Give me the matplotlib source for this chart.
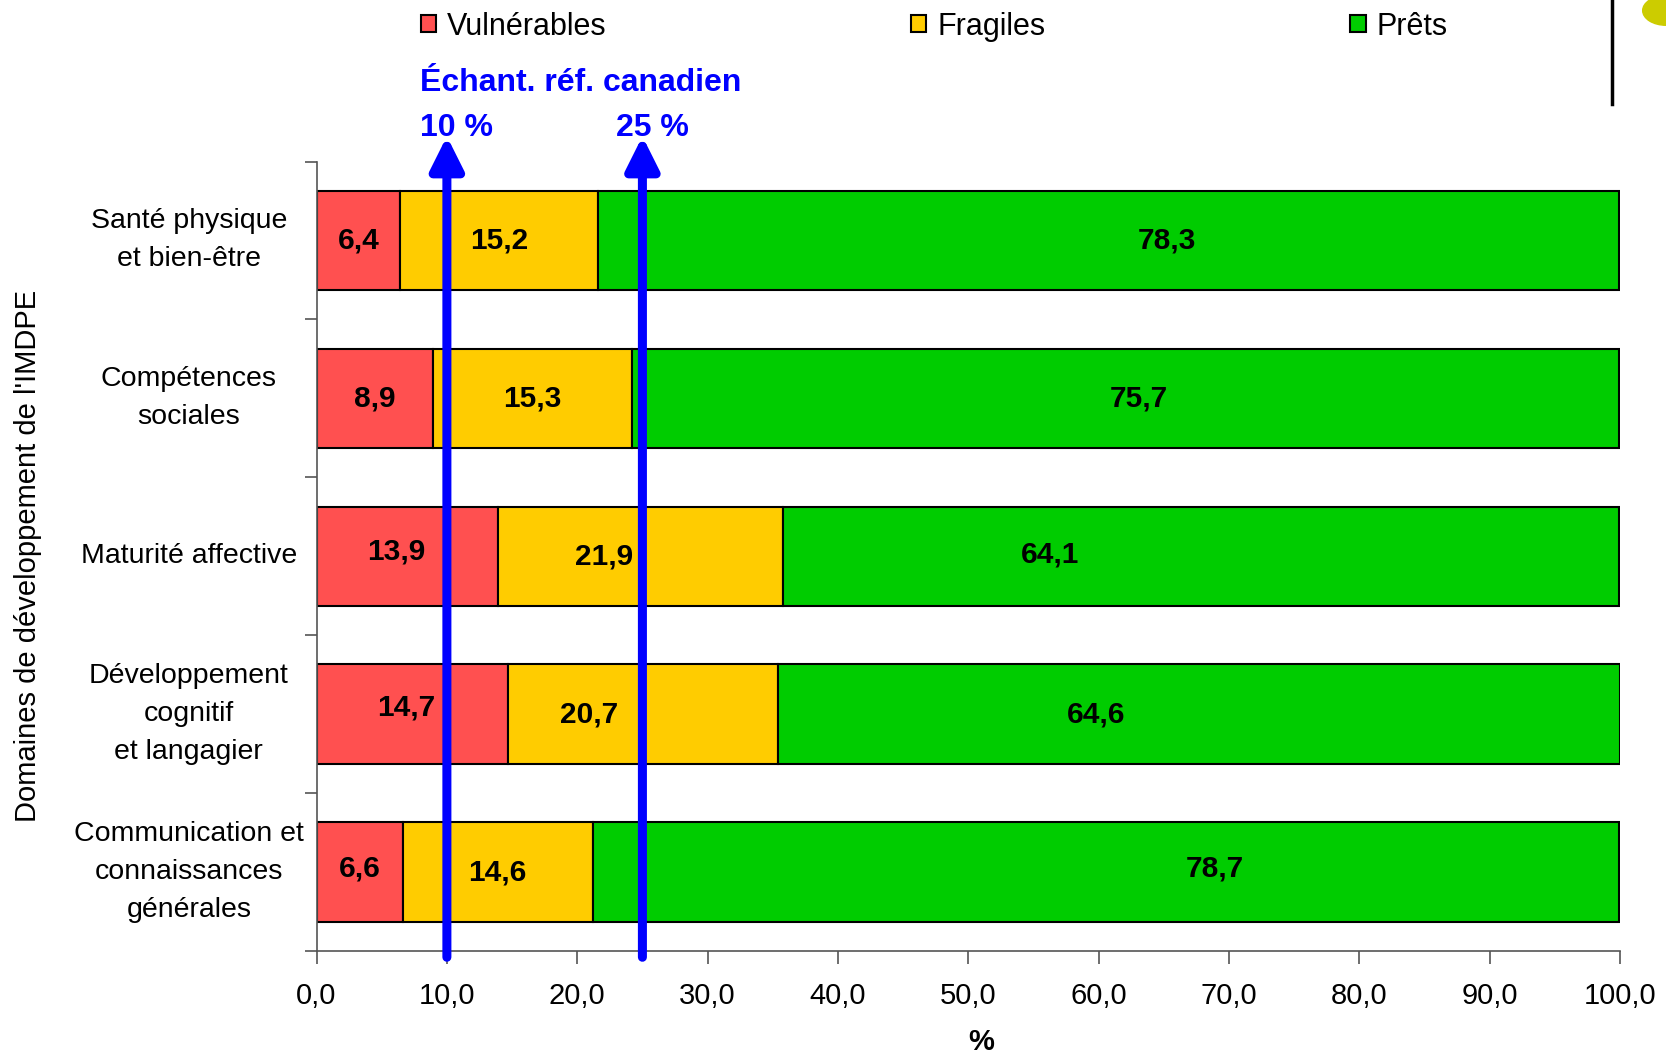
import matplotlib
matplotlib.use("Agg")
import matplotlib.pyplot as plt
from matplotlib.patches import Circle
from matplotlib.lines import Line2D
import numpy as np

plt.rcParams['font.family'] = ['Liberation Sans', 'DejaVu Sans']

categories = ["Santé physique\net bien-être", "Compétences\nsociales", "Maturité affective",
              "Développement\ncognitif\net langagier", "Communication et\nconnaissances\ngénérales"]
vulnerables = [6.4, 8.9, 13.9, 14.7, 6.6]
fragiles = [15.2, 15.3, 21.9, 20.7, 14.6]
prets = [78.3, 75.7, 64.1, 64.6, 78.7]
series_names = ["Vulnérables", "Fragiles", "Prêts"]
colors = ["#FF5050", "#FFCC00", "#00CC00"]
ref_values = [10, 25]
ref_labels = ["10 %", "25 %"]
xticks = np.arange(0, 101, 10)

# label horizontal shifts (layout only), in data units relative to segment center
label_shift = [[0, 0, 4.5], [0, 0, 1.0], [-0.8, -2.8, -11.6], [-0.5, -4.1, -7.9], [0, 0, 8.4]]
label_yshift = [[0, 0, 0], [0, 0, 0], [-0.03, 0, -0.01], [-0.04, 0, 0], [-0.02, 0, -0.02]]

fig = plt.figure(figsize=(16.66, 10.53), dpi=100)
ax = fig.add_axes([0.190, 0.0969, 0.7824, 0.7497])

y = np.arange(len(categories))
data = [vulnerables, fragiles, prets]
left = np.zeros(len(categories))
for si, (vals, col, name) in enumerate(zip(data, colors, series_names)):
    vals = np.array(vals)
    ax.barh(y, vals, left=left, height=0.63, color=col, edgecolor='black', linewidth=1.5, label=name, zorder=2)
    for i, v in enumerate(vals):
        cx = left[i] + v / 2 + label_shift[i][si]
        ax.text(cx, y[i] + label_yshift[i][si], f"{v:.1f}".replace('.', ','), ha='center', va='center',
                fontsize=21.5, fontweight='bold', color='black', zorder=4)
    left = left + vals

ax.set_xlim(0, 100)
ax.set_ylim(len(categories) - 0.5, -0.5)
ax.set_xticks(xticks)
ax.set_xticklabels([f"{t:.1f}".replace('.', ',') for t in xticks], fontsize=21)
ax.set_yticks(np.arange(len(categories) + 1) - 0.5)
ax.set_yticklabels([])
ax.set_yticks(y, minor=True)
ax.set_yticklabels(categories, minor=True, fontsize=20.5, linespacing=1.6, ha='center', va='center')
ax.tick_params(axis='y', which='minor', length=0, pad=92)
ax.tick_params(axis='y', which='major', length=9, color='#555555', width=1.2)
ax.tick_params(axis='x', length=9, color='#555555', width=1.2, pad=13)
for s in ['top', 'right']:
    ax.spines[s].set_visible(False)
for s in ['left', 'bottom']:
    ax.spines[s].set_color('#555555')
    ax.spines[s].set_linewidth(1.2)

ax.set_xlabel('%', fontsize=21, fontweight='bold')
ax.xaxis.set_label_coords(0.51, -0.098)
ax.set_ylabel("Domaines de développement de l'IMDPE", fontsize=21)
ax.yaxis.set_label_coords(-0.211, 0.5)

# reference arrows
for rv in ref_values:
    ax.annotate('', xy=(rv, -0.66), xytext=(rv, 4.54),
                arrowprops=dict(arrowstyle='-|>,head_length=0.9,head_width=0.45', lw=6.5, color='#0000FF',
                                mutation_scale=22, shrinkA=0, shrinkB=0),
                annotation_clip=False, zorder=5)

fig.text(0.252, 0.921, "Échant. réf. canadien", color='#0000FF', fontsize=23, fontweight='bold', va='center')
fig.text(0.252, 0.878, ref_labels[0], color='#0000FF', fontsize=23, fontweight='bold', va='center')
fig.text(0.370, 0.878, ref_labels[1], color='#0000FF', fontsize=23, fontweight='bold', va='center')

handles = [plt.Rectangle((0, 0), 1, 1, facecolor=c, edgecolor='black', linewidth=1.5) for c in colors]
fig.legend(handles, series_names, loc='upper left', bbox_to_anchor=(0.2525, 0.989), ncol=3, frameon=False,
           fontsize=22, handlelength=0.5, handleheight=0.5, handletextpad=0.35, columnspacing=9.98,
           borderpad=0, borderaxespad=0)

# decorative elements at top right
fig.add_artist(Line2D([0.9676, 0.9676], [1.0, 0.901], color='black', linewidth=2.5, transform=fig.transFigure))
fig.add_artist(Circle((1.0, 0.99), 0.014, transform=fig.transFigure, color='#CCCC00', clip_on=False))

fig.savefig('out.png', dpi=100)
